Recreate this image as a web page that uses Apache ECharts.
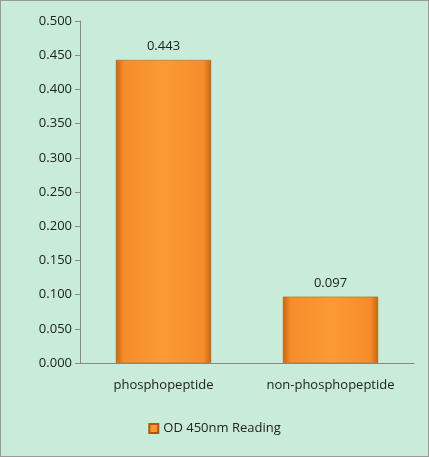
<!DOCTYPE html><html><head><meta charset="utf-8"><script src="https://cdn.jsdelivr.net/npm/echarts@6/dist/echarts.min.js"></script>
<style>html,body{margin:0;padding:0;}#c{width:427px;height:455px;border:1px solid #999;background:#c8ecd9;}</style></head><body><div id="c"></div><script>
const categories=['phosphopeptide','non-phosphopeptide'];
const values=[0.443,0.097];
const seriesName='OD 450nm Reading';
const ch=echarts.init(document.getElementById('c'));
const grad=new echarts.graphic.LinearGradient(0,0,1,0,[{offset:0,color:'#c8650f'},{offset:0.08,color:'#f68d2a'},{offset:0.5,color:'#fb9a35'},{offset:0.92,color:'#f68d2a'},{offset:1,color:'#c8650f'}]);
ch.setOption({
 textStyle:{fontFamily:'Open Sans, Liberation Sans, sans-serif'},
 grid:{left:79,right:14,top:20,bottom:93},
 legend:{bottom:16,left:'center',itemWidth:9,itemHeight:9,icon:'rect',textStyle:{fontSize:13,color:'#222'},data:[seriesName]},
 xAxis:{type:'category',data:categories,axisTick:{show:false},axisLine:{lineStyle:{color:'#888'}},axisLabel:{fontSize:13,color:'#222',margin:16}},
 yAxis:{type:'value',min:0,max:0.5,interval:0.05,axisLine:{show:true,lineStyle:{color:'#888'}},axisTick:{show:true,lineStyle:{color:'#888'}},splitLine:{show:false},axisLabel:{fontSize:13,color:'#222',formatter:v=>v.toFixed(3)}},
 series:[{name:seriesName,type:'bar',data:values,barWidth:'57%',itemStyle:{color:grad,borderColor:'#b0580c',borderWidth:0.5},
  label:{show:true,position:'top',fontSize:13,color:'#222',formatter:p=>p.value.toFixed(3),distance:7}}]
});
</script></body></html>
